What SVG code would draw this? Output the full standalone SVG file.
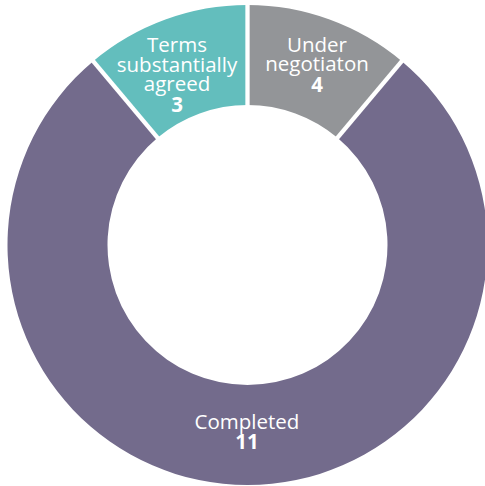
<svg xmlns="http://www.w3.org/2000/svg" width="485" height="486" viewBox="0 0 485 486">
<style>
.lbl{font-family:"Open Sans","Noto Sans","Liberation Sans",sans-serif;font-size:20.5px;fill:#ffffff;text-anchor:middle}
.num{font-weight:bold}
.gap{stroke:#ffffff;stroke-width:4.3;fill:none}
</style>
<rect width="485" height="486" fill="#ffffff"/>
<g id="completed">
<path d="M401.77,61.15 A240,240 0 1 1 93.23,61.15 L157.51,137.75 A140,140 0 1 0 337.49,137.75 Z" fill="#736b8c"/>
<text class="lbl" x="247" y="429">Completed</text>
<text class="lbl num" x="247" y="449">11</text>
</g>
<g id="under-negotiation">
<path d="M247.5,5 A240,240 0 0 1 401.77,61.15 L337.49,137.75 A140,140 0 0 0 247.5,105 Z" fill="#939598"/>
<text class="lbl" x="317" y="52">Under</text>
<text class="lbl" x="317" y="71">negotiaton</text>
<text class="lbl num" x="317" y="91.5">4</text>
</g>
<g id="terms-agreed">
<path d="M93.23,61.15 A240,240 0 0 1 247.5,5 L247.5,105 A140,140 0 0 0 157.51,137.75 Z" fill="#63bebd"/>
<text class="lbl" x="177" y="52">Terms</text>
<text class="lbl" x="177" y="71.5">substantially</text>
<text class="lbl" x="177" y="90.5">agreed</text>
<text class="lbl num" x="177" y="112">3</text>
</g>
<g id="connectors">
<line class="gap" x1="247.5" y1="0" x2="247.5" y2="110"/>
<line class="gap" x1="405" y1="57.3" x2="334" y2="141.8"/>
<line class="gap" x1="90" y1="57.3" x2="161" y2="141.8"/>
</g>
</svg>
